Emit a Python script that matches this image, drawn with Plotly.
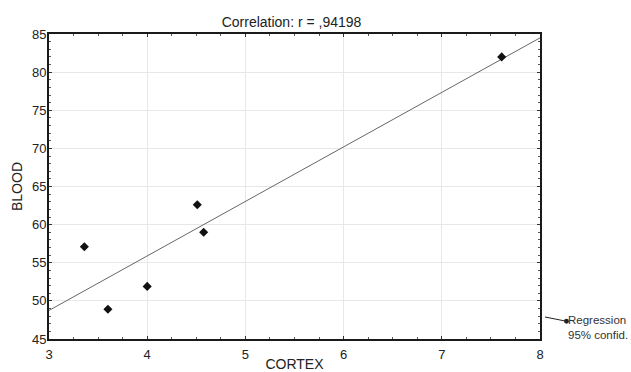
import numpy as np
import plotly.graph_objects as go

# Data
cortex = [3.36, 3.60, 4.00, 4.51, 4.575, 7.61]
blood = [57.1, 48.9, 51.9, 62.6, 59.0, 82.0]
title_text = "Correlation: r = ,94198"
x_label = "CORTEX"
y_label = "BLOOD"
legend_lines = ["Regression", "95% confid."]
x_range = [3, 8]
y_range = [45, 85]

# Least-squares regression line over the axis range
slope, intercept = np.polyfit(cortex, blood, 1)
line_x = np.array(x_range, dtype=float)
line_y = slope * line_x + intercept

fig = go.Figure()
fig.add_trace(go.Scatter(
    x=line_x, y=line_y, mode="lines",
    line=dict(color="#666666", width=1),
    showlegend=False, hoverinfo="skip",
))
fig.add_trace(go.Scatter(
    x=cortex, y=blood, mode="markers",
    marker=dict(symbol="diamond", size=7, color="#111111"),
    showlegend=False,
))

font_family = "Liberation Sans, Arial, sans-serif"
axis_common = dict(
    showline=True, linecolor="#1a1a1a", linewidth=2, mirror="allticks",
    ticks="inside", ticklen=3, tickwidth=1, tickcolor="#333333",
    showgrid=True, gridcolor="#e8e8e8", gridwidth=1,
    zeroline=False, automargin=False,
    tickfont=dict(family=font_family, size=13, color="#222222"),
)

fig.update_layout(
    width=631, height=372,
    margin=dict(l=49, r=91, t=34, b=33),
    paper_bgcolor="white", plot_bgcolor="white",
    font=dict(family=font_family, size=13, color="#222222"),
    title=dict(text=title_text, x=0.462, xanchor="center", y=1 - 22 / 372,
               yanchor="middle", font=dict(size=14, color="#222222")),
    xaxis=dict(range=x_range, dtick=1, tick0=3, ticklabelstandoff=2,
               minor=dict(ticks="inside", ticklen=2, dtick=0.25, tickcolor="#555555", showgrid=False),
               title=dict(text=x_label, standoff=0, font=dict(size=14)),
               **axis_common),
    yaxis=dict(range=y_range, dtick=5, tick0=45, ticklabelstandoff=-2,
               minor=dict(ticks="inside", ticklen=2, dtick=1, tickcolor="#555555", showgrid=False),
               title=dict(text=y_label, standoff=6, font=dict(size=14)),
               **axis_common),
    showlegend=False,
)

fig.add_annotation(
    xref="paper", yref="paper",
    x=(545 - 49) / 491, y=(339 - 317) / 305,
    ax=53, ay=10.5,
    text="<br>".join(legend_lines),
    align="left", showarrow=True,
    arrowside="start", startarrowhead=6, startarrowsize=1.2,
    arrowcolor="#222222", arrowwidth=1,
    font=dict(family=font_family, size=11.5, color="#333333"),
)

fig.write_html("out.html")
